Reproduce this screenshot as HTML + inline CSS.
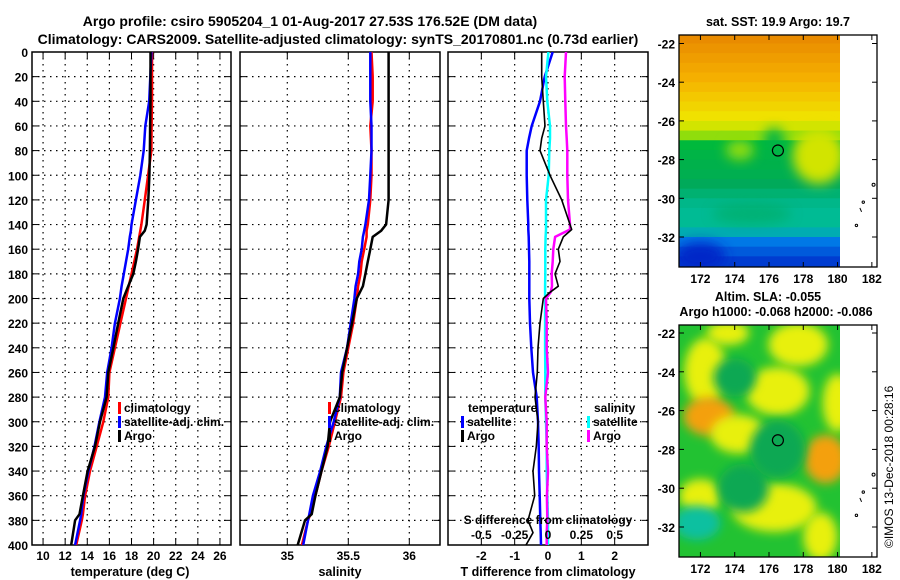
<!DOCTYPE html>
<html><head><meta charset="utf-8"><style>
html,body{margin:0;padding:0;background:#fff;}
svg{display:block;font-family:"Liberation Sans",sans-serif;font-weight:bold;}
</style></head><body>
<svg id="fig" width="900" height="580" viewBox="0 0 900 580" xmlns="http://www.w3.org/2000/svg">
<defs>
<clipPath id="c1"><rect x="32" y="52" width="199" height="493"/></clipPath>
<clipPath id="c2"><rect x="240" y="52" width="200" height="493"/></clipPath>
<clipPath id="c3"><rect x="448" y="52" width="200" height="493"/></clipPath>
<clipPath id="cm1"><rect x="679" y="35" width="161" height="232"/></clipPath>
<clipPath id="cm2"><rect x="679" y="325" width="161" height="232"/></clipPath>
<filter id="blur" x="-50%" y="-50%" width="200%" height="200%"><feGaussianBlur stdDeviation="6"/></filter>
<filter id="blur2" x="-50%" y="-50%" width="200%" height="200%"><feGaussianBlur stdDeviation="5"/></filter>
</defs>
<g font-size="14">
<text x="310" y="26" text-anchor="middle">Argo profile: csiro 5905204_1 01-Aug-2017 27.53S 176.52E (DM data)</text>
<text x="338" y="44" text-anchor="middle">Climatology: CARS2009. Satellite-adjusted climatology: synTS_20170801.nc (0.73d earlier)</text>
</g>
<g id="plots"></g>
<g id="maps"></g>
<text transform="translate(893,548) rotate(-90)" font-size="12" font-weight="normal">©IMOS 13-Dec-2018 00:28:16</text>
</svg>
<script>
// ---------- profile data ----------
const depthT = [0,20,40,60,80,100,120,140,145,150,160,170,180,190,200,220,240,260,280,300,320,340,360,375,380,400];
const argoT  = [19.72,19.72,19.72,19.68,19.66,19.62,19.52,19.37,19.2,18.76,18.6,18.4,18.16,17.7,17.26,16.8,16.36,15.9,15.75,15.15,14.7,14.03,13.6,13.3,12.9,12.55];
const climT  = [19.85,19.85,19.85,19.82,19.8,19.5,19.2,18.9,18.8,18.7,18.5,18.25,18.0,17.75,17.5,17.0,16.5,16.0,15.9,15.45,14.85,14.25,13.8,13.6,13.5,13.0];
const satT   = [19.8,19.7,19.6,19.25,19.1,18.8,18.4,18.0,17.95,17.85,17.7,17.5,17.3,17.1,16.95,16.5,16.2,15.8,15.6,15.1,14.65,14.1,13.65,13.45,13.35,12.9];
const argoS  = [35.83,35.83,35.83,35.83,35.83,35.83,35.83,35.81,35.77,35.70,35.68,35.66,35.64,35.62,35.57,35.53,35.49,35.45,35.43,35.35,35.33,35.28,35.23,35.2,35.145,35.085];
const climS  = [35.69,35.70,35.70,35.68,35.69,35.69,35.68,35.66,35.65,35.65,35.63,35.61,35.60,35.58,35.57,35.54,35.50,35.46,35.44,35.39,35.34,35.28,35.23,35.19,35.17,35.12];
const satS   = [35.68,35.68,35.68,35.69,35.69,35.68,35.67,35.64,35.63,35.62,35.61,35.59,35.58,35.56,35.55,35.52,35.49,35.44,35.43,35.38,35.32,35.27,35.21,35.18,35.17,35.13];
const depthD = [0,20,40,60,70,80,100,120,140,144,150,160,170,180,190,195,200,220,240,260,280,300,320,340,360,380,390,400];
const argoDT = [-0.19,-0.19,-0.14,-0.09,-0.19,-0.24,0.06,0.41,0.66,0.71,0.46,0.31,0.36,0.21,0.31,0.06,-0.14,-0.24,-0.3,-0.32,-0.39,-0.3,-0.35,-0.45,-0.4,-0.6,-0.45,-0.66];
const satDT  = [0.14,-0.1,-0.24,-0.49,-0.57,-0.64,-0.64,-0.62,-0.59,-0.59,-0.58,-0.57,-0.56,-0.56,-0.56,-0.56,-0.56,-0.54,-0.5,-0.45,-0.34,-0.3,-0.28,-0.27,-0.25,-0.23,-0.22,-0.21];
const argoDS = [0.135,0.125,0.13,0.135,0.14,0.145,0.145,0.15,0.165,0.165,0.053,0.04,0.035,0.028,0.03,0.02,-0.015,-0.01,-0.01,0,-0.02,-0.01,-0.01,0,-0.008,-0.005,-0.01,-0.01];
const satDS  = [0.003,-0.015,-0.005,0.015,0.015,0.01,0.005,-0.015,-0.015,-0.015,-0.018,-0.02,-0.02,-0.02,-0.022,-0.022,-0.022,-0.022,-0.022,-0.02,-0.02,-0.015,-0.01,-0.01,-0.005,0,0,0];
const depthTicks = [0,20,40,60,80,100,120,140,160,180,200,220,240,260,280,300,320,340,360,380,400];
const tempTicks = [10,12,14,16,18,20,22,24,26];
const salTicks = [35,35.5,36];
const salTickLabels = ["35","35.5","36"];
const dTTicks = [-2,-1,0,1,2];
const dSTicks = [-0.5,-0.25,0,0.25,0.5];
const dSTickLabels = ["-0.5","-0.25","0","0.25","0.5"];
// ---------- map data ----------
const lonTicks = [172,174,176,178,180,182];
const latTicks = [-22,-24,-26,-28,-30,-32];
const sstLat = [-21.75,-22.25,-22.75,-23.25,-23.75,-24.25,-24.75,-25.25,-25.75,-26.25,-26.75,-27.25,-27.75,-28.25,-28.75,-29.25,-29.75,-30.25,-30.75,-31.25,-31.75,-32.25,-32.75,-33.25];
const sstVal = [21.8,21.7,21.6,21.5,21.4,21.3,21.2,21.1,21.0,20.8,20.5,20.1,20.0,19.95,19.9,19.8,19.7,19.6,19.55,19.55,19.4,19.1,18.95,18.8];
const profLon = 176.52, profLat = -27.53;
const slaLon = [172.3,172.5,174.2,176.5,177.7,173.6,179.3,172.0,176.3,179.0,180.0,171.8,174.5,176.5,174.0];
const slaLat = [-24.0,-26.3,-27.2,-25.0,-22.6,-22.0,-28.5,-30.4,-31.0,-32.5,-25.6,-31.8,-30.0,-28.0,-24.3];
const slaVal = [0.08,0.14,0.07,0.09,0.08,0.06,0.14,0.1,0.07,0.07,0.06,-0.12,-0.06,-0.05,-0.05];
const slaRx = [1.0,1.2,1.3,1.5,1.4,1.0,1.0,1.0,2.0,0.8,0.7,1.1,1.2,1.3,1.0];
const slaRy = [1.4,0.8,0.8,1.0,0.9,0.5,1.0,0.7,1.0,1.0,1.2,0.7,1.0,1.2,0.8];

const NS="http://www.w3.org/2000/svg";
function mk(tag,attrs,parent,text){const e=document.createElementNS(NS,tag);for(const k in attrs)e.setAttribute(k,attrs[k]);if(text!==undefined)e.textContent=text;parent.appendChild(e);return e;}
const plots=document.getElementById('plots');
const Y0=52,Y1=545;
const yD=d=>Y0+(d/400)*(Y1-Y0);
function lin(d0,d1,r0,r1){return v=>r0+(v-d0)/(d1-d0)*(r1-r0);}
const xT=lin(9,27,32,231), xS=lin(35,36,287.3,409.3), xDT=lin(-3,3,448,648), xDS=lin(-0.75,0.75,448,648);

function panel(name,x0,x1,clip,ticksX,xf){
  const g=mk('g',{},plots);
  
  
  const grid=mk('g',{stroke:'#000','stroke-width':1.2,'stroke-dasharray':'1.5,4.5'},g);
  
  
  depthTicks.slice(1,-1).forEach(d=>{mk('line',{x1:x0,x2:x1,y1:yD(d),y2:yD(d)},grid);});
  ticksX.forEach(v=>{const x=xf(v);mk('line',{x1:x,x2:x,y1:Y0,y2:Y1},grid);});
  const tk=mk('g',{stroke:'#000','stroke-width':1},g);
  depthTicks.forEach(d=>{mk('line',{x1:x0,x2:x0+6,y1:yD(d),y2:yD(d)},tk);mk('line',{x1:x1-6,x2:x1,y1:yD(d),y2:yD(d)},tk);});
  ticksX.forEach(v=>{const x=xf(v);mk('line',{x1:x,x2:x,y1:Y1,y2:Y1-6},tk);mk('line',{x1:x,x2:x,y1:Y0,y2:Y0+6},tk);});
  const fr=mk('rect',{x:x0,y:Y0,width:x1-x0,height:Y1-Y0,fill:'none',stroke:'#000','stroke-width':1.5},g);
  
  
  return g;
}
function line(g,name,xs,ds,xf,color,w,clip){
  const pts=xs.map((v,i)=>xf(v).toFixed(1)+','+yD(ds[i]).toFixed(1)).join(' ');
  const p=mk('polyline',{points:pts,fill:'none',stroke:color,'stroke-width':w,'clip-path':'url(#'+clip+')','stroke-linejoin':'round'},g);
  
  
}
function legend(g,x,y,color,label,name){
  const lg=mk('g',{},g);
  
  
  mk('rect',{x:x,y:y-10,width:3,height:12,fill:color},lg);
  mk('text',{x:x+6,y:y,'font-size':12},lg,label);
}
const dl=mk('g',{'font-size':12,'text-anchor':'end'},plots);


depthTicks.forEach(d=>mk('text',{x:28,y:yD(d)+5},dl,String(d)));

const p1=panel('temperature-panel',32,231,'c1',tempTicks,xT);
line(p1,'temp-climatology-line',climT,depthT,xT,'#ff0000',2.5,'c1');
line(p1,'temp-satellite-line',satT,depthT,xT,'#0000ff',2.5,'c1');
line(p1,'temp-argo-line',argoT,depthT,xT,'#000',2.5,'c1');
const l1=mk('g',{'font-size':12,'text-anchor':'middle'},p1);
tempTicks.forEach(v=>mk('text',{x:xT(v),y:560},l1,String(v)));
mk('text',{x:130,y:576,'font-size':12.5,'text-anchor':'middle'},p1,'temperature (deg C)');
legend(p1,118,412,'#ff0000','climatology','legend-climatology');
legend(p1,118,426,'#0000ff','satellite-adj. clim.','legend-satellite');
legend(p1,118,440,'#000','Argo','legend-argo');

const p2=panel('salinity-panel',240,440,'c2',salTicks,xS);
line(p2,'sal-climatology-line',climS,depthT,xS,'#ff0000',2.5,'c2');
line(p2,'sal-satellite-line',satS,depthT,xS,'#0000ff',2.5,'c2');
line(p2,'sal-argo-line',argoS,depthT,xS,'#000',2.5,'c2');
salTicks.forEach((v,i)=>mk('text',{x:xS(v),y:560,'font-size':12,'text-anchor':'middle'},p2,salTickLabels[i]));
mk('text',{x:340,y:576,'font-size':12.5,'text-anchor':'middle'},p2,'salinity');
legend(p2,328,412,'#ff0000','climatology','legend-sal-climatology');
legend(p2,328,426,'#0000ff','satellite-adj. clim.','legend-sal-satellite');
legend(p2,328,440,'#000','Argo','legend-sal-argo');

const p3=panel('difference-panel',448,648,'c3',dTTicks,xDT);
line(p3,'dT-satellite-line',satDT,depthD,xDT,'#0000ff',2.5,'c3');
line(p3,'dS-satellite-line',satDS,depthD,xDS,'#00ffff',2.5,'c3');
line(p3,'dS-argo-line',argoDS,depthD,xDS,'#ff00ff',2.5,'c3');
line(p3,'dT-argo-line',argoDT,depthD,xDT,'#000',1.6,'c3');
dTTicks.forEach(v=>mk('text',{x:xDT(v),y:560,'font-size':12,'text-anchor':'middle'},p3,String(v)));
mk('text',{x:548,y:576,'font-size':12.5,'text-anchor':'middle'},p3,'T difference from climatology');
mk('text',{x:548,y:524,'font-size':12,'text-anchor':'middle'},p3,'S difference from climatology');
dSTicks.forEach((v,i)=>mk('text',{x:xDS(v),y:539,'font-size':12,'text-anchor':'middle'},p3,dSTickLabels[i]));
mk('text',{x:468,y:412,'font-size':12},p3,'temperature');
legend(p3,461,426,'#0000ff','satellite','legend-dT-satellite');
legend(p3,461,440,'#000','Argo','legend-dT-argo');
mk('text',{x:594,y:412,'font-size':12},p3,'salinity');
legend(p3,587,426,'#00ffff','satellite','legend-dS-satellite');
legend(p3,587,440,'#ff00ff','Argo','legend-dS-argo');

// ---------- maps ----------
const maps=document.getElementById('maps');
const mx=lin(170.75,182.3,679,877);
function sstColor(v){
  const stops=[[18.7,[0,40,200]],[19.1,[0,120,230]],[19.5,[0,190,160]],[19.8,[0,170,90]],[20.1,[0,185,60]],[20.6,[180,230,0]],[21.0,[240,225,0]],[21.4,[245,175,0]],[21.9,[230,130,0]]];
  if(v<=stops[0][0])return 'rgb('+stops[0][1]+')';
  for(let i=1;i<stops.length;i++){if(v<=stops[i][0]){const a=stops[i-1],b=stops[i],t=(v-a[0])/(b[0]-a[0]);return 'rgb('+a[1].map((c,j)=>Math.round(c+(b[1][j]-c)*t)).join(',')+')';}}
  return 'rgb('+stops[stops.length-1][1]+')';
}
function mapFrame(name){
  const g=mk('g',{},maps);
  
  
  return g;
}
function mapAxes(g,top,bottom,yf,labelY){
  const tk=mk('g',{stroke:'#000','stroke-width':1},g);
  lonTicks.forEach(l=>{const x=mx(l);mk('line',{x1:x,x2:x,y1:bottom,y2:bottom-5},tk);mk('line',{x1:x,x2:x,y1:top,y2:top+5},tk);});
  latTicks.forEach(l=>{const y=yf(l);mk('line',{x1:679,x2:684,y1:y,y2:y},tk);mk('line',{x1:872,x2:877,y1:y,y2:y},tk);});
  mk('rect',{x:679,y:top,width:198,height:bottom-top,fill:'none',stroke:'#000','stroke-width':1.3},g);
  lonTicks.forEach(l=>mk('text',{x:mx(l),y:labelY,'font-size':12,'text-anchor':'middle'},g,String(l)));
  latTicks.forEach(l=>mk('text',{x:675,y:yf(l)+5,'font-size':12,'text-anchor':'end'},g,String(l)));
  const isl=mk('g',{fill:'none',stroke:'#000','stroke-width':1},g);
  mk('circle',{cx:mx(182.1),cy:yf(-29.3),r:1.5},isl);
  mk('circle',{cx:mx(181.5),cy:yf(-30.2),r:1.2},isl);
  mk('line',{x1:mx(181.3),y1:yf(-30.5),x2:mx(181.4),y2:yf(-30.7)},isl);
  mk('circle',{cx:mx(181.1),cy:yf(-31.4),r:1.2},isl);
  const c=mk('circle',{cx:mx(profLon),cy:yf(profLat),r:5.5,fill:'none',stroke:'#000','stroke-width':1.2},g);
  
  
}
const my1=lin(-22,-32,43.5,237);
const g1=mapFrame('sst-map');
mk('text',{x:778,y:26,'font-size':12.5,'text-anchor':'middle'},g1,'sat. SST: 19.9 Argo: 19.7');
const sg=mk('g',{'clip-path':'url(#cm1)'},g1);
sstLat.forEach((la,i)=>{
  const r=mk('rect',{x:679,y:my1(la+0.25),width:161,height:my1(la-0.25)-my1(la+0.25)+0.5,fill:sstColor(sstVal[i])},sg);
  
  
});
mk('ellipse',{cx:mx(178.9),cy:my1(-27.8),rx:26,ry:28,fill:sstColor(20.8),filter:'url(#blur)'},sg);
mk('ellipse',{cx:mx(174.3),cy:my1(-27.5),rx:14,ry:10,fill:sstColor(20.5),filter:'url(#blur)'},sg);
mk('ellipse',{cx:mx(176.3),cy:my1(-27.0),rx:10,ry:12,fill:sstColor(20.0),filter:'url(#blur)'},sg);
mk('ellipse',{cx:mx(172.0),cy:my1(-33),rx:25,ry:14,fill:sstColor(18.7),filter:'url(#blur)'},sg);
mk('ellipse',{cx:mx(175),cy:my1(-30.8),rx:40,ry:10,fill:sstColor(19.75),filter:'url(#blur)',opacity:0.7},sg);
mapAxes(g1,35,267,my1,283);
const my2=lin(-22,-32,333,527);
const g2=mapFrame('sla-map');
mk('text',{x:768,y:301,'font-size':12.5,'text-anchor':'middle'},g2,'Altim. SLA: -0.055');
mk('text',{x:776,y:316,'font-size':12.5,'text-anchor':'middle'},g2,'Argo h1000: -0.068 h2000: -0.086');
const bg=mk('g',{'clip-path':'url(#cm2)'},g2);
mk('rect',{x:679,y:325,width:161,height:232,fill:'#22c232'},bg);
function slaColor(v){if(v>0.11)return '#f4a010';if(v>0.05)return '#e8f010';if(v<-0.1)return '#10c0a0';return '#10a852';}
slaLon.forEach((lo,i)=>{
  const e=mk('ellipse',{cx:mx(lo),cy:my2(slaLat[i]),rx:slaRx[i]*17*1.25,ry:slaRy[i]*19.4*1.25,fill:slaColor(slaVal[i]),filter:'url(#blur2)'},bg);
  
  
});
mapAxes(g2,325,557,my2,573);
</script>
</body></html>
